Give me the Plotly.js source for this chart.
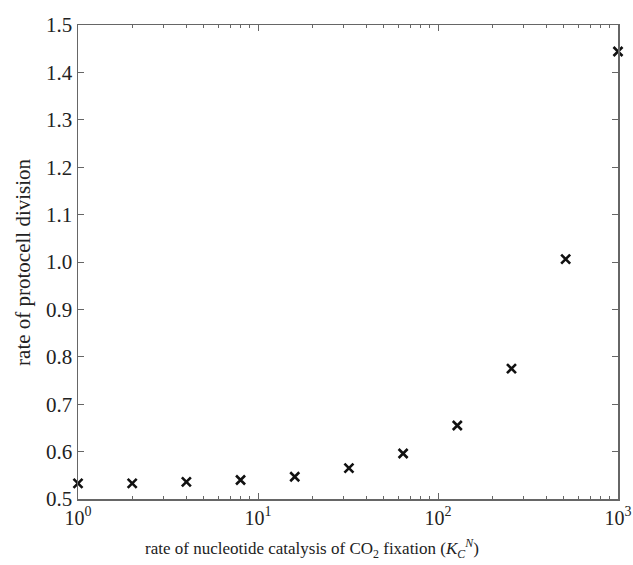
<!DOCTYPE html>
<html>
<head>
<meta charset="utf-8">
<script src="https://cdn.plot.ly/plotly-3.0.1.min.js"></script>
<style>html,body{margin:0;padding:0;background:#fff;}#chart{width:633px;height:565px;}</style>
</head>
<body>
<div id="chart"></div>
<script>
// Data
var kCN = [1, 2, 4, 8, 16, 32, 64, 128, 256, 512, 1000];
var divisionRate = [0.533, 0.533, 0.536, 0.540, 0.547, 0.565, 0.596, 0.655, 0.775, 1.006, 1.444];
var xTickVals = [1, 10, 100, 1000];
var xTickText = ['10<sup>0</sup>', '10<sup>1</sup>', '10<sup>2</sup>', '10<sup>3</sup>'];
var yTickVals = [0.5, 0.6, 0.7, 0.8, 0.9, 1.0, 1.1, 1.2, 1.3, 1.4, 1.5];
var xTitle = 'rate of nucleotide catalysis of CO<sub>2</sub> fixation (<i>K</i><sub><i>C</i></sub><sup><i>N</i></sup>)';
var yTitle = 'rate of protocell division';

var minorVals = [];
for (var d = 1; d <= 100; d *= 10) {
  for (var m = 2; m <= 9; m++) minorVals.push(m * d);
}

var font = 'Liberation Serif, Times New Roman, serif';
var axisColor = '#666';

var trace = {
  x: kCN,
  y: divisionRate,
  type: 'scatter',
  mode: 'markers',
  cliponaxis: false,
  marker: {symbol: 'x-thin-open', size: 9, color: '#111', line: {width: 2.6, color: '#111'}},
  hoverinfo: 'x+y'
};

var layout = {
  width: 633,
  height: 565,
  margin: {l: 78, r: 15, t: 25, b: 66},
  paper_bgcolor: '#fff',
  plot_bgcolor: '#fff',
  showlegend: false,
  font: {family: font, color: '#222', size: 20},
  xaxis: {
    type: 'log',
    range: [0, 3],
    tickmode: 'array',
    tickvals: xTickVals,
    ticktext: xTickText,
    ticks: 'inside',
    ticklen: 6,
    tickwidth: 1,
    tickcolor: axisColor,
    minor: {tickmode: 'array', tickvals: minorVals, ticks: 'inside', ticklen: 3, tickwidth: 1, tickcolor: axisColor, showgrid: false},
    showline: true,
    linecolor: axisColor,
    linewidth: 1.5,
    mirror: 'ticks',
    showgrid: false,
    zeroline: false,
    tickfont: {family: font, size: 20, color: '#222'}
  },
  yaxis: {
    range: [0.5, 1.5],
    tickmode: 'array',
    tickvals: yTickVals,
    tickformat: '.1f',
    ticks: 'inside',
    ticklen: 6,
    tickwidth: 1,
    tickcolor: axisColor,
    showline: true,
    linecolor: axisColor,
    linewidth: 1.5,
    mirror: 'ticks',
    showgrid: false,
    zeroline: false,
    tickfont: {family: font, size: 21, color: '#222'}
  },
  annotations: [
    {text: xTitle, xref: 'paper', yref: 'paper', x: 0.1204, y: -0.105, xanchor: 'left', yanchor: 'middle',
     showarrow: false, font: {family: font, size: 17, color: '#222'}},
    {text: yTitle, xref: 'paper', yref: 'paper', x: -0.102, y: 0.5, xanchor: 'center', yanchor: 'middle',
     textangle: -90, showarrow: false, font: {family: font, size: 21, color: '#222'}}
  ]
};

Plotly.newPlot('chart', [trace], layout, {displayModeBar: false, staticPlot: true});
</script>
</body>
</html>
